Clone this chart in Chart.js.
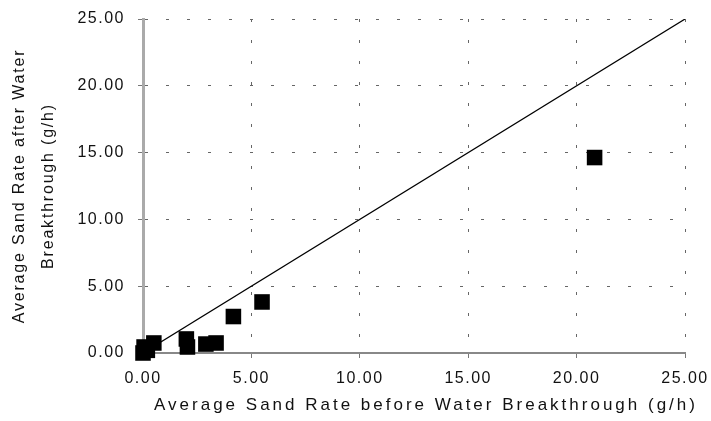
<!DOCTYPE html>
<html>
<head>
<meta charset="utf-8">
<script src="https://cdn.jsdelivr.net/npm/chart.js@4/dist/chart.umd.min.js"></script>
<style>
    html, body { margin: 0; padding: 0; background: #fff; }
    #wrap { width: 711px; height: 421px; }
</style>
</head>
<body>
<div id="wrap"><canvas id="sandChart"></canvas></div>
<script>
// values (g/h)
const beforeBreakthrough = [0.00, 0.05, 0.20, 0.50, 2.00, 2.05, 2.90, 3.37, 4.17, 5.49, 20.83];
const afterBreakthrough = [0.00, 0.45, 0.20, 0.75, 1.05, 0.45, 0.67, 0.75, 2.73, 3.82, 14.63];
const parityLine = [0, 25];
const tickValues = [0, 5, 10, 15, 20, 25];
const xTitle = "Average Sand Rate before Water Breakthrough (g/h)";
const yTitle = ["Average Sand Rate after Water", "Breakthrough (g/h)"];

const FONT = "'Liberation Sans', Arial, sans-serif";

// wider letter spacing like the scanned figure
const textSpacing = {
    id: "textSpacing",
    beforeDraw(chart) {
        chart.ctx.letterSpacing = "1.5px";
    },
};

// axis titles drawn by hand so they can be placed like the original
const axisTitles = {
    id: "axisTitles",
    afterDraw(chart) {
        const { ctx, chartArea } = chart;
        ctx.save();
        ctx.fillStyle = "#111";
        ctx.textAlign = "center";
        ctx.textBaseline = "middle";
        ctx.font = "17px " + FONT;
        ctx.letterSpacing = "3px";
        ctx.fillText(xTitle, chartArea.left + 283, 405);
        ctx.font = "16px " + FONT;
        ctx.letterSpacing = "1.8px";
        const cy = (chartArea.top + chartArea.bottom) / 2;
        yTitle.forEach((line, i) => {
            ctx.save();
            ctx.translate(20 + i * 29, cy);
            ctx.rotate(-Math.PI / 2);
            ctx.fillText(line, 0, 0);
            ctx.restore();
        });
        ctx.restore();
    },
};

const axisOpts = (borderColor, borderWidth) => ({
    type: "linear",
    min: 0,
    max: 25,
    afterBuildTicks: (s) => { s.ticks = tickValues.map((v) => ({ value: v })); },
    grid: {
        color: "#666",
        lineWidth: 1,
        tickLength: 5,
        tickColor: "#777",
        tickWidth: 1,
    },
    border: { color: borderColor, width: borderWidth, dash: [3, 18] },
    ticks: {
        color: "#111",
        font: { family: FONT, size: 16 },
        callback: (v) => v.toFixed(2),
    },
});

// pin the plot box: left 143, right 685, top 19, bottom 353
const xAxis = axisOpts("#888", 2);
xAxis.ticks.padding = 11;
xAxis.afterFit = (s) => {
    s.height = 68;
    s.paddingLeft = 0;
    s.paddingRight = 0;
};
const yAxis = axisOpts("#aaa", 3);
yAxis.ticks.padding = 13;
yAxis.afterFit = (s) => {
    s.width = 143;
    s.paddingTop = 0;
    s.paddingBottom = 0;
};

new Chart(document.getElementById("sandChart"), {
    type: "scatter",
    data: {
        datasets: [
            {
                label: "Wells",
                data: beforeBreakthrough.map((x, i) => ({ x: x, y: afterBreakthrough[i] })),
                pointStyle: "rect",
                pointRadius: 11,
                pointBackgroundColor: "#000",
                pointBorderWidth: 0,
                clip: false,
            },
            {
                type: "line",
                label: "y = x",
                data: parityLine.map((v) => ({ x: v, y: v })),
                borderColor: "#000",
                borderWidth: 1.2,
                pointRadius: 0,
                fill: false,
            },
        ],
    },
    options: {
        responsive: true,
        maintainAspectRatio: false,
        animation: false,
        layout: { padding: { top: 19, right: 26, left: 0, bottom: 0 } },
        plugins: {
            legend: { display: false },
            tooltip: { enabled: false },
        },
        scales: { x: xAxis, y: yAxis },
    },
    plugins: [textSpacing, axisTitles],
});
</script>
</body>
</html>
